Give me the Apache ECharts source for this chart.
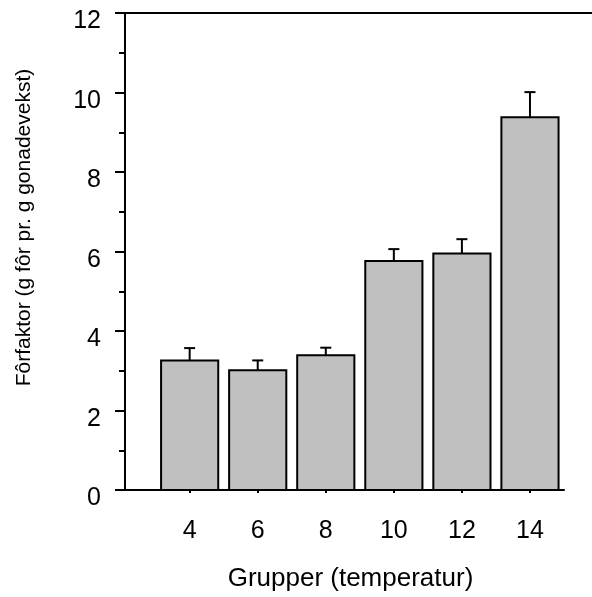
<!DOCTYPE html>
<html>
<head>
<meta charset="utf-8">
<script src="https://cdn.jsdelivr.net/npm/echarts@6/dist/echarts.min.js"></script>
<style>
  html, body { margin: 0; padding: 0; background: #fff; }
  #chart { width: 592px; height: 597px; }
</style>
</head>
<body>
<div id="chart"></div>
<script>
// Temperature groups and feed conversion (mean and standard error)
const groups = [4, 6, 8, 10, 12, 14];
const meanValues = [3.26, 3.01, 3.39, 5.76, 5.95, 9.38];
const errorValues = [0.31, 0.25, 0.19, 0.30, 0.36, 0.63];
const yTicks = [0, 2, 4, 6, 8, 10, 12];

const FONT = '"Liberation Sans", Arial, sans-serif';
const barData = groups.map((g, i) => [g, meanValues[i], errorValues[i]]);

const chart = echarts.init(document.getElementById('chart'), null, { renderer: 'canvas' });

chart.setOption({
  animation: false,
  backgroundColor: '#ffffff',
  grid: [
    { left: 125, right: 28, top: 13, bottom: 106 },
    // frame line along the top, running to the right edge
    { left: 125, right: 0, top: 13, bottom: 106 }
  ],
  xAxis: [
    {
      type: 'value',
      gridIndex: 0,
      min: 2.1,
      max: 15,
      splitLine: { show: false },
      axisLine: { show: true, onZero: false, lineStyle: { color: '#000', width: 2 } },
      axisTick: {
        show: true, customValues: groups, length: 3, inside: false,
        lineStyle: { color: '#000', width: 2 }
      },
      axisLabel: {
        customValues: groups, margin: 29,
        color: '#000', fontFamily: FONT, fontSize: 25
      },
      name: 'Grupper (temperatur)',
      nameLocation: 'middle',
      nameGap: 76,
      nameTextStyle: { color: '#000', fontFamily: FONT, fontSize: 26, padding: [0, 0, 0, 12] }
    },
    {
      type: 'value',
      gridIndex: 1,
      position: 'top',
      min: 0,
      max: 1,
      splitLine: { show: false },
      axisLine: { show: true, onZero: false, lineStyle: { color: '#000', width: 2 } },
      axisTick: { show: false },
      axisLabel: { show: false }
    }
  ],
  yAxis: [
    {
      type: 'value',
      gridIndex: 0,
      min: 0,
      max: 12,
      interval: 2,
      splitLine: { show: false },
      axisLine: { show: true, lineStyle: { color: '#000', width: 2 } },
      axisTick: { show: true, length: 10, lineStyle: { color: '#000', width: 2 } },
      minorTick: { show: true, splitNumber: 2, length: 6, lineStyle: { color: '#000', width: 2 } },
      axisLabel: {
        customValues: yTicks, margin: 24,
        verticalAlign: 'top', lineHeight: 17,
        color: '#000', fontFamily: FONT, fontSize: 25
      },
      name: 'Fôrfaktor (g fôr pr. g gonadevekst)',
      nameLocation: 'middle',
      nameGap: 90,
      nameTextStyle: { color: '#000', fontFamily: FONT, fontSize: 21, padding: [0, 0, 0, 48] }
    },
    {
      type: 'value',
      gridIndex: 1,
      min: 0,
      max: 1,
      show: false
    }
  ],
  series: [
    {
      type: 'custom',
      xAxisIndex: 0,
      yAxisIndex: 0,
      data: barData,
      renderItem: function (params, api) {
        const x = api.value(0);
        const mean = api.value(1);
        const err = api.value(2);
        const base = api.coord([x, 0]);
        const top = api.coord([x, mean]);
        const errTop = api.coord([x, mean + err]);
        const halfW = api.size([1.68, 0])[0] / 2;
        const cap = 5.5;
        return {
          type: 'group',
          children: [
            {
              type: 'line',
              shape: { x1: top[0], y1: top[1], x2: errTop[0], y2: errTop[1] },
              style: { stroke: '#000', lineWidth: 2 }
            },
            {
              type: 'line',
              shape: { x1: errTop[0] - cap, y1: errTop[1], x2: errTop[0] + cap, y2: errTop[1] },
              style: { stroke: '#000', lineWidth: 2 }
            },
            {
              type: 'rect',
              shape: { x: top[0] - halfW, y: top[1], width: halfW * 2, height: base[1] - top[1] },
              style: { fill: '#c0c0c0', stroke: '#000', lineWidth: 2 }
            }
          ]
        };
      }
    }
  ]
});
</script>
</body>
</html>
